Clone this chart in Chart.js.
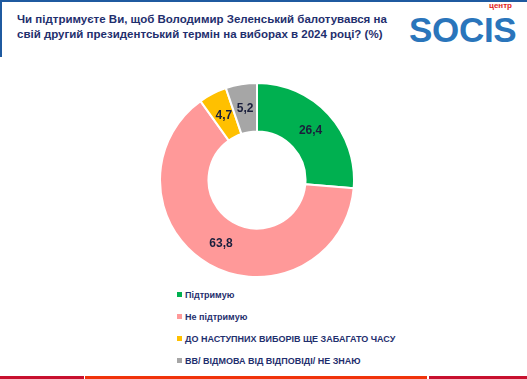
<!DOCTYPE html>
<html>
<head>
<meta charset="utf-8">
<script src="https://cdn.jsdelivr.net/npm/chart.js@4"></script>
<style>
  html, body { margin: 0; padding: 0; background: #fff; }
  body { width: 527px; height: 379px; position: relative; overflow: hidden; font-family: "Liberation Sans", Arial, sans-serif; }
  .topbar { position: absolute; left: 0; top: 0; width: 527px; height: 2px; background: #1f5aa0; }
  .leftbar { position: absolute; left: 0; top: 0; width: 2px; height: 57px; background: #1f5aa0; }
  .title { position: absolute; left: 17px; top: 12px; font-size: 11.5px; font-weight: bold; color: #1f2f6e; line-height: 15px; }
  .centr { position: absolute; left: 489px; top: 1px; font-size: 8px; line-height: 9px; font-weight: bold; color: #e2231a; }
  .word { position: absolute; left: 409px; top: 10px; font-size: 35px; line-height: normal; font-weight: 900; color: #2a75bb; letter-spacing: -0.3px; }
  .chartbox { position: absolute; left: 159px; top: 82px; width: 196px; height: 196px; }
  .legend { position: absolute; left: 177px; top: 290px; }
  .legend div { height: 22px; font-size: 9px; font-weight: bold; color: #1f2f6e; white-space: nowrap; }
  .legend span { display: inline-block; width: 5px; height: 5px; margin-right: 3px; vertical-align: 1px; }
  .bottom { position: absolute; top: 376px; height: 3px; }
</style>
</head>
<body>
<div class="topbar"></div>
<div class="leftbar"></div>
<div class="title">Чи підтримуєте Ви, щоб Володимир Зеленський балотувався на<br>свій другий президентський термін на виборах в 2024 році? (%)</div>
<div class="centr">центр</div>
<div class="word">SOCIS</div>
<div class="chartbox"><canvas id="donut" width="196" height="196"></canvas></div>
<div class="legend" id="legend"></div>
<div class="bottom" style="left:0;width:84px;background:#c8102e"></div>
<div class="bottom" style="left:85px;width:342px;background:#f0330a"></div>
<div class="bottom" style="left:429px;width:98px;background:#c8102e"></div>
<script>
// ─── Data ───
const labels = ['Підтримую', 'Не підтримую', 'ДО НАСТУПНИХ ВИБОРІВ ЩЕ ЗАБАГАТО ЧАСУ', 'ВВ/ ВІДМОВА ВІД ВІДПОВІДІ/ НЕ ЗНАЮ'];
const values = [26.4, 63.8, 4.7, 5.2];
const colors = ['#00b050', '#ff9999', '#ffc000', '#a6a6a6'];

const fmt = (v) => String(v).replace('.', ',');

// ─── Value labels on the arcs ───
const arcLabels = {
  id: 'arcLabels',
  afterDatasetsDraw(chart) {
    const { ctx } = chart;
    const meta = chart.getDatasetMeta(0);
    ctx.save();
    ctx.font = 'bold 12px "Liberation Sans", Arial, sans-serif';
    ctx.fillStyle = '#1a1f3c';
    ctx.textAlign = 'center';
    ctx.textBaseline = 'middle';
    meta.data.forEach((arc, i) => {
      const p = arc.tooltipPosition();
      ctx.fillText(fmt(values[i]), p.x, p.y);
    });
    ctx.restore();
  },
};

new Chart(document.getElementById('donut'), {
  type: 'doughnut',
  data: {
    labels,
    datasets: [{
      data: values,
      backgroundColor: colors,
      borderColor: '#ffffff',
      borderWidth: 2,
    }],
  },
  options: {
    responsive: false,
    animation: false,
    cutout: '50%',
    layout: { padding: 0 },
    plugins: { legend: { display: false }, tooltip: { enabled: false } },
  },
  plugins: [arcLabels],
});

// ─── Legend ───
document.getElementById('legend').innerHTML = labels
  .map((l, i) => `<div><span style="background:${colors[i]}"></span>${l}</div>`)
  .join('');
</script>
</body>
</html>
